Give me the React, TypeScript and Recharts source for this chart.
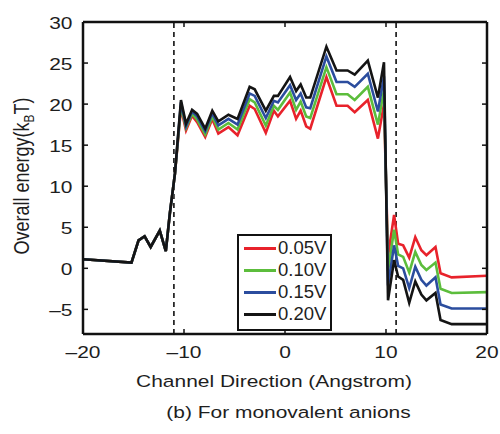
import React from 'react';
import { LineChart, Line, XAxis, YAxis, ReferenceLine, Legend, Label } from 'recharts';

const positions = [-20, -15.2, -14.5, -13.9, -13.3, -12.4, -11.8, -11.4, -10.9, -10.3, -9.8, -9.2, -8.7, -7.9, -7.2, -6.6, -5.6, -4.7, -3.5, -3.0, -1.9, -1.1, -0.7, 0.5, 1.1, 1.55, 2.1, 2.5, 4.1, 5.1, 6.2, 6.9, 8.2, 9.2, 9.8, 10.2, 10.8, 11.2, 11.7, 12.3, 12.9, 13.5, 14.0, 14.9, 15.4, 16.5, 20];

const energy005V = [1.1, 0.7, 3.4, 3.9, 2.6, 4.6, 2.1, 6.7, 11.5, 19.5, 16.8, 18.6, 17.8, 16.0, 18.2, 16.4, 17.2, 16.2, 19.8, 19.4, 16.5, 19.2, 18.5, 20.4, 18.2, 19.2, 17.3, 17.0, 23.3, 19.8, 19.8, 19.0, 20.5, 15.8, 20.0, 1.5, 6.5, 3.0, 2.8, 1.3, 3.8, 2.2, 1.6, 2.6, -0.6, -1.1, -0.9];
const energy010V = [1.1, 0.7, 3.4, 3.9, 2.6, 4.6, 2.1, 6.7, 11.5, 19.8, 17.1, 18.8, 18.1, 16.3, 18.5, 16.9, 17.7, 16.9, 20.6, 20.2, 17.4, 19.8, 19.3, 21.4, 19.3, 20.3, 18.5, 18.3, 24.5, 21.2, 21.2, 20.5, 22.1, 17.5, 21.7, -0.3, 4.7, 1.7, 1.4, -0.5, 2.0, 0.4, -0.2, 0.7, -2.5, -3.0, -2.9];
const energy015V = [1.1, 0.7, 3.4, 3.9, 2.6, 4.6, 2.1, 6.7, 11.5, 20.2, 17.3, 19.1, 18.5, 16.7, 18.9, 17.4, 18.2, 17.5, 21.3, 21.0, 18.3, 20.4, 20.2, 22.3, 20.5, 21.3, 19.6, 19.5, 25.8, 22.7, 22.7, 22.1, 23.7, 19.1, 23.4, -2.1, 2.8, 0.3, 0.0, -2.4, 0.2, -1.4, -2.1, -1.1, -4.4, -4.9, -4.9];
const energy020V = [1.1, 0.7, 3.4, 3.9, 2.6, 4.6, 2.1, 6.7, 11.5, 20.5, 17.6, 19.3, 18.8, 17.0, 19.2, 17.9, 18.7, 18.2, 22.1, 21.8, 19.2, 21.0, 21.0, 23.3, 21.6, 22.4, 20.8, 20.8, 27.0, 24.1, 24.1, 23.6, 25.3, 20.8, 25.1, -3.9, 1.0, -1.0, -1.4, -4.2, -1.6, -3.2, -3.9, -3.0, -6.3, -6.8, -6.8];

const seriesNames = ['0.05V', '0.10V', '0.15V', '0.20V'];
const seriesColors = ['#e8222b', '#5cbd3c', '#2b4d9e', '#141414'];
const xTicks = [-20, -10, 0, 10, 20];
const yTicks = [-5, 0, 5, 10, 15, 20, 25, 30];
const poreEdges = [-11, 11];

const data = positions.map((x, i) => ({
  x,
  s0: energy005V[i],
  s1: energy010V[i],
  s2: energy015V[i],
  s3: energy020V[i],
}));

const FONT = '"Liberation Sans", Arial, Helvetica, sans-serif';
const TXT = '#1e1e1e';
const SX = 1.27;
const fmt = (v: number) => String(v).replace('-', '\u2013');

const WideText = ({ x, y, anchor = 'middle', size = 16.5, children }: any) => (
  <text
    transform={`translate(${x},${y}) scale(${SX},1)`}
    x={0}
    y={0}
    textAnchor={anchor}
    fontSize={size}
    fontFamily={FONT}
    fill={TXT}
  >
    {children}
  </text>
);

const BottomTick = (p: any) => (
  <g>
    <line x1={p.x} x2={p.x} y1={p.y - 12} y2={p.y - 17} stroke="#111" strokeWidth={1.5} />
    <WideText x={p.x} y={p.y + 12.3}>{fmt(p.payload.value)}</WideText>
  </g>
);
const TopTick = (p: any) => (
  <line x1={p.x} x2={p.x} y1={p.y} y2={p.y + 5} stroke="#111" strokeWidth={1.5} />
);
const LeftTick = (p: any) => (
  <g>
    <line x1={p.x + 11} x2={p.x + 16} y1={p.y} y2={p.y} stroke="#111" strokeWidth={1.5} />
    <WideText x={p.x + 0.5} y={p.y + 6.5} anchor="end">{fmt(p.payload.value)}</WideText>
  </g>
);
const RightTick = (p: any) => (
  <line x1={p.x} x2={p.x - 5} y1={p.y} y2={p.y} stroke="#111" strokeWidth={1.5} />
);

const renderLegend = (props: any) => (
  <div
    style={{
      border: '2px solid #111',
      background: '#fff',
      boxSizing: 'border-box',
      width: 95,
      height: 97,
      padding: '1px 0 0 5px',
      fontFamily: FONT,
      color: TXT,
    }}
  >
    {(props.payload || []).map((e: any) => (
      <div key={e.value} style={{ display: 'flex', alignItems: 'center', height: 22 }}>
        <span style={{ display: 'inline-block', width: 32, height: 3, background: e.color }} />
        <span style={{ marginLeft: 2, fontSize: 18.5, lineHeight: '22px' }}>{e.value}</span>
      </div>
    ))}
  </div>
);

const YLabel = () => (
  <text
    transform={`translate(28.5,176) scale(${SX},1) rotate(-90)`}
    x={0}
    y={0}
    textAnchor="middle"
    fontSize={18}
    fontFamily={FONT}
    fill={TXT}
  >
    Overall energy(k
    <tspan dy={4} fontSize={12}>B</tspan>
    <tspan dy={-4}>T)</tspan>
  </text>
);

const XLabel = () => (
  <g>
    <WideText x={274} y={386.5}>Channel Direction (Angstrom)</WideText>
    <WideText x={288.5} y={418}>(b) For monovalent anions</WideText>
  </g>
);

export default function App() {
  return (
    <div style={{ position: 'absolute', left: 0, top: 0, width: 500, height: 434, background: '#fff' }}>
      <LineChart width={500} height={434} data={data} margin={{ top: 0, right: 0, left: 0, bottom: 70 }}>
        <XAxis
          dataKey="x"
          type="number"
          domain={[-20, 20]}
          ticks={xTicks}
          allowDataOverflow
          height={30}
          tickSize={0}
          tickMargin={12}
          tickLine={false}
          axisLine={{ stroke: '#111', strokeWidth: 2.5 }}
          tick={BottomTick}
        >
          <Label content={XLabel} />
        </XAxis>
        <XAxis
          xAxisId="top"
          orientation="top"
          dataKey="x"
          type="number"
          domain={[-20, 20]}
          ticks={xTicks}
          allowDataOverflow
          height={22}
          tickSize={0}
          tickMargin={0}
          tickLine={false}
          axisLine={{ stroke: '#111', strokeWidth: 2.5 }}
          tick={TopTick}
        />
        <YAxis
          type="number"
          domain={[-8, 30]}
          ticks={yTicks}
          allowDataOverflow
          width={83}
          tickSize={0}
          tickMargin={11}
          tickLine={false}
          axisLine={{ stroke: '#111', strokeWidth: 2.5 }}
          tick={LeftTick}
        >
          <Label content={YLabel} />
        </YAxis>
        <YAxis
          yAxisId="right"
          orientation="right"
          type="number"
          domain={[-8, 30]}
          ticks={yTicks}
          allowDataOverflow
          width={13}
          tickSize={0}
          tickMargin={0}
          tickLine={false}
          axisLine={{ stroke: '#111', strokeWidth: 2.5 }}
          tick={RightTick}
        />
        {poreEdges.map((e) => (
          <ReferenceLine key={e} x={e} stroke="#111" strokeWidth={1.6} strokeDasharray="5 4" />
        ))}
        {seriesNames.map((name, i) => (
          <Line
            key={name}
            dataKey={`s${i}`}
            name={name}
            stroke={seriesColors[i]}
            strokeWidth={2.6}
            dot={false}
            type="linear"
            isAnimationActive={false}
          />
        ))}
        <Legend
          layout="vertical"
          align="center"
          verticalAlign="middle"
          content={renderLegend}
          wrapperStyle={{ position: 'absolute', left: 237, top: 234, width: 95, height: 97 }}
        />
      </LineChart>
    </div>
  );
}
